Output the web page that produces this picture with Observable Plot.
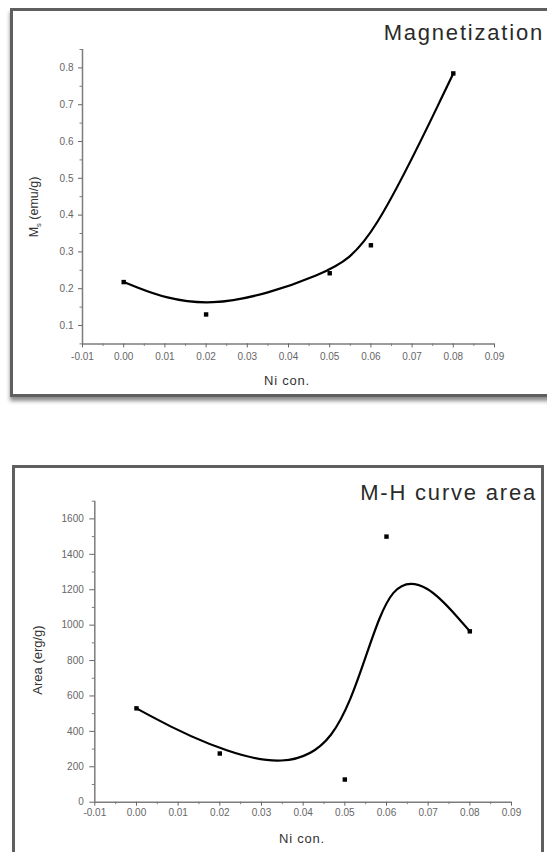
<!DOCTYPE html>
<html>
<head>
<meta charset="utf-8">
<script src="https://cdn.jsdelivr.net/npm/d3@7"></script>
<script src="https://cdn.jsdelivr.net/npm/@observablehq/plot@0.6"></script>
<style>
  html, body { margin: 0; padding: 0; width: 547px; height: 852px; overflow: hidden; background: #fff;
    font-family: "Liberation Sans", Arial, sans-serif; }
  #page { position: relative; width: 547px; height: 852px; overflow: hidden; }
  .box { position: absolute; box-sizing: border-box; border: 3px solid #5f5f5f; background: #fff; }
  #box1 { left: 10px; top: 8px; width: 560px; height: 389px; box-shadow: 0 4px 4px rgba(0,0,0,0.45); }
  #box2 { left: 12px; top: 465px; width: 532px; height: 420px; }
  .chart { position: absolute; left: 0; }
  .title { position: absolute; font-size: 22px; line-height: 22px; color: #2a2a2a; letter-spacing: 1.8px; white-space: nowrap; }
  .lab { position: absolute; white-space: nowrap; color: #333; transform: translate(-50%, -50%); }
  .ylab { transform: translate(-50%, -50%) rotate(-90deg); }
  sub { font-size: 0.6em; }
</style>
</head>
<body>
<div id="page">
  <div class="box" id="box1"></div>
  <div class="box" id="box2"></div>
  <div class="chart" id="chart1" style="top:0px"></div>
  <div class="chart" id="chart2" style="top:440px"></div>
  <div class="title" style="right:3px; top:22px">Magnetization</div>
  <div class="title" style="right:10px; top:482px">M-H curve area</div>
  <div class="lab" style="left:287px; top:380px; font-size:13px; letter-spacing:0.8px">Ni con.</div>
  <div class="lab" style="left:302px; top:838px; font-size:13px; letter-spacing:0.8px">Ni con.</div>
  <div class="lab ylab" style="left:35px; top:207px; font-size:12.5px">M<sub>s</sub> (emu/g)</div>
  <div class="lab ylab" style="left:37px; top:660px; font-size:13px">Area (erg/g)</div>
</div>
<script>
// Ni concentration of the samples
const niCon = [0.00, 0.02, 0.05, 0.06, 0.08];
// Saturation magnetization, emu/g
const magnetization = [0.218, 0.13, 0.242, 0.318, 0.785];
// Area enclosed by the M-H loop, erg/g
const curveArea = [530, 275, 128, 1500, 965];

// Axis ticks
const xTicks = [-0.01, 0.00, 0.01, 0.02, 0.03, 0.04, 0.05, 0.06, 0.07, 0.08, 0.09];
const magTicks = [0.1, 0.2, 0.3, 0.4, 0.5, 0.6, 0.7, 0.8];
const areaTicks = [0, 200, 400, 600, 800, 1000, 1200, 1400, 1600];

const xMinor = d3.range(-0.005, 0.09, 0.01);
const magMinor = d3.range(0.05, 0.86, 0.1);
const areaMinor = d3.range(100, 1701, 200);

const axisColor = "#7c7c7c";
const tickColor = "#666";
const font = "Liberation Sans, Arial, sans-serif";

function panel({rows, yDomain, yTicks, yMinor, yFormat, height, margins, xPad, yPad, ySize}) {
  return Plot.plot({
    width: 547,
    height,
    ...margins,
    style: {background: "transparent", overflow: "visible", fontFamily: font},
    x: {domain: [-0.01, 0.09], axis: null},
    y: {domain: yDomain, axis: null},
    marks: [
      Plot.ruleY([yDomain[0]], {stroke: axisColor, strokeWidth: 1.5}),
      Plot.ruleX([-0.01], {stroke: axisColor, strokeWidth: 1.5}),
      Plot.axisX(xMinor, {tickSize: 2.5, tickFormat: () => "", label: null, color: axisColor}),
      Plot.axisX(xTicks, {tickSize: 4, tickPadding: xPad, tickFormat: d => d.toFixed(2),
        label: null, fontSize: 10, color: tickColor}),
      Plot.axisY(yMinor, {tickSize: 2.5, tickFormat: () => "", label: null, color: axisColor}),
      Plot.axisY(yTicks, {tickSize: ySize, tickPadding: yPad, tickFormat: yFormat,
        label: null, fontSize: 10, color: tickColor}),
      Plot.line(rows, {x: "x", y: "y", curve: "basis", stroke: "#000", strokeWidth: 2.2}),
      Plot.dot(rows, {x: "x", y: "y", symbol: "square", r: 2.5, fill: "#000", stroke: null})
    ]
  });
}

const magRows = niCon.map((x, i) => ({x, y: magnetization[i]}));
const areaRows = niCon.map((x, i) => ({x, y: curveArea[i]}));

document.getElementById("chart1").append(panel({
  rows: magRows,
  yDomain: [0.05, 0.85],
  yTicks: magTicks,
  yMinor: magMinor,
  yFormat: d => d.toFixed(1),
  height: 400,
  margins: {marginLeft: 82, marginRight: 53, marginTop: 49, marginBottom: 56.6},
  xPad: 5, yPad: 5, ySize: 4
}));

document.getElementById("chart2").append(panel({
  rows: areaRows,
  yDomain: [0, 1700],
  yTicks: areaTicks,
  yMinor: areaMinor,
  yFormat: d => String(d),
  height: 412,
  margins: {marginLeft: 94.3, marginRight: 36, marginTop: 60.7, marginBottom: 50.3},
  xPad: 3, yPad: 6, ySize: 5
}));
</script>
</body>
</html>
